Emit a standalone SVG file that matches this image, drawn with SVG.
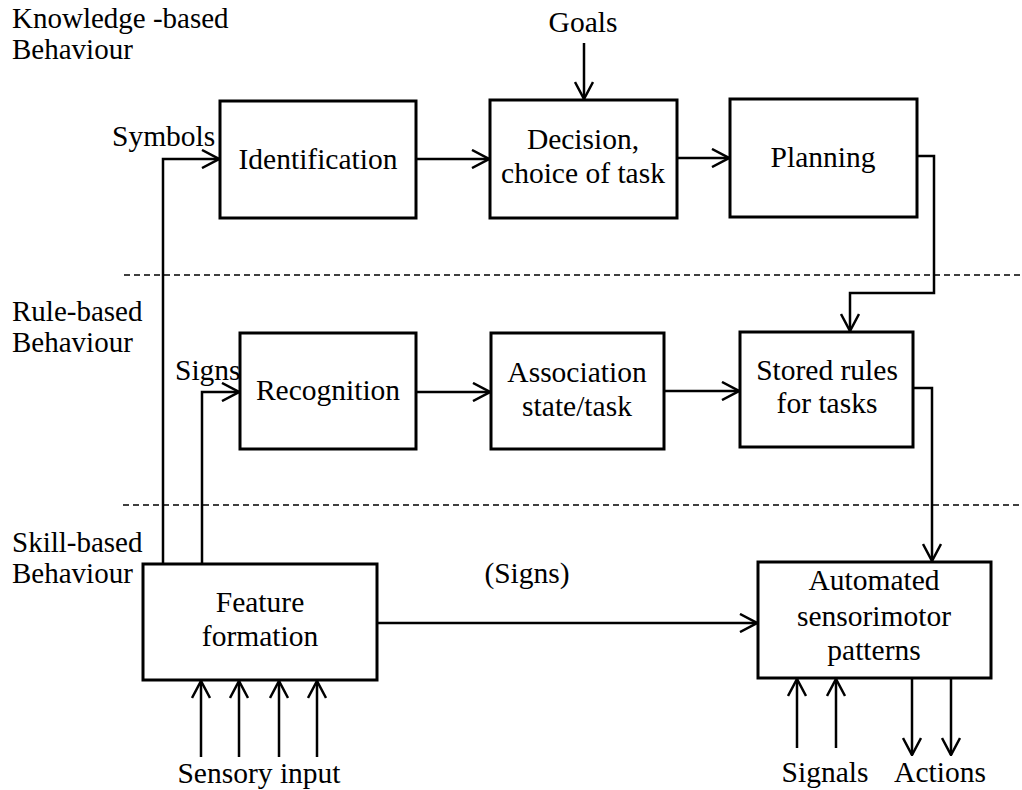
<svg xmlns="http://www.w3.org/2000/svg" width="1022" height="790" viewBox="0 0 1022 790" font-family="'Liberation Serif','Times New Roman',serif">
<style>
text{font-family:"Liberation Serif","Times New Roman",serif;font-size:29.5px;fill:#000}
.lv{font-size:29px}
.c{text-anchor:middle}
.box{fill:#fff;stroke:#000;stroke-width:3}
.ln{fill:none;stroke:#000;stroke-width:2.5}
.dash{fill:none;stroke:#000;stroke-width:1.5;stroke-dasharray:6 4}
</style>
<defs>
<marker id="arr" viewBox="0 0 20 20" refX="19" refY="10" markerWidth="20" markerHeight="20" markerUnits="userSpaceOnUse" orient="auto">
<path d="M2,1 L19,10 L2,19" fill="none" stroke="#000" stroke-width="2.5"/>
</marker>
</defs>
<rect width="1022" height="790" fill="#fff"/>
<g id="levels">
<text class="lv" x="12" y="28">Knowledge -based</text>
<text class="lv" x="12" y="59">Behaviour</text>
<text class="lv" x="12" y="321">Rule-based</text>
<text class="lv" x="12" y="352">Behaviour</text>
<text class="lv" x="12" y="552">Skill-based</text>
<text class="lv" x="12" y="583">Behaviour</text>
<line class="dash" x1="124" y1="275" x2="1022" y2="275"/>
<line class="dash" x1="123" y1="505" x2="1022" y2="505"/>
</g>
<g id="connectors">
<path class="ln" d="M163,564 V159 H219" marker-end="url(#arr)"/>
<path class="ln" d="M202,564 V392 H239" marker-end="url(#arr)"/>
<path class="ln" d="M416,159 H489" marker-end="url(#arr)"/>
<path class="ln" d="M584,43 V99" marker-end="url(#arr)"/>
<path class="ln" d="M677,158 H729" marker-end="url(#arr)"/>
<path class="ln" d="M917,156 H934 V293 H850 V331" marker-end="url(#arr)"/>
<path class="ln" d="M416,392 H490" marker-end="url(#arr)"/>
<path class="ln" d="M664,391 H739" marker-end="url(#arr)"/>
<path class="ln" d="M913,388 H932 V561" marker-end="url(#arr)"/>
<path class="ln" d="M377,623 H757" marker-end="url(#arr)"/>
<path class="ln" d="M201,757 V681" marker-end="url(#arr)"/>
<path class="ln" d="M239,757 V681" marker-end="url(#arr)"/>
<path class="ln" d="M279,757 V681" marker-end="url(#arr)"/>
<path class="ln" d="M317,757 V681" marker-end="url(#arr)"/>
<path class="ln" d="M797,748 V679" marker-end="url(#arr)"/>
<path class="ln" d="M836,748 V679" marker-end="url(#arr)"/>
<path class="ln" d="M912,678 V755" marker-end="url(#arr)"/>
<path class="ln" d="M951,678 V755" marker-end="url(#arr)"/>
<text x="112" y="146">Symbols</text>
<text x="175" y="380">Signs</text>
<text class="c" x="527" y="583">(Signs)</text>
<text class="c" x="583" y="32">Goals</text>
<text class="c" x="259" y="783">Sensory input</text>
<text class="c" x="825" y="782">Signals</text>
<text class="c" x="940" y="782">Actions</text>
</g>
<g id="identification">
<rect class="box" x="220" y="101" width="196" height="117"/>
<text class="c" x="318" y="169">Identification</text>
</g>
<g id="decision">
<rect class="box" x="490" y="100" width="187" height="118"/>
<text class="c" x="583" y="149">Decision,</text>
<text class="c" x="583" y="183">choice of task</text>
</g>
<g id="planning">
<rect class="box" x="730" y="99" width="187" height="118"/>
<text class="c" x="823" y="167">Planning</text>
</g>
<g id="recognition">
<rect class="box" x="240" y="333" width="176" height="116"/>
<text class="c" x="328" y="400">Recognition</text>
</g>
<g id="association">
<rect class="box" x="491" y="333" width="173" height="116"/>
<text class="c" x="577" y="382">Association</text>
<text class="c" x="577" y="416">state/task</text>
</g>
<g id="stored-rules">
<rect class="box" x="740" y="332" width="173" height="115"/>
<text class="c" x="827" y="380">Stored rules</text>
<text class="c" x="827" y="413">for tasks</text>
</g>
<g id="feature-formation">
<rect class="box" x="143" y="564" width="234" height="116"/>
<text class="c" x="260" y="612">Feature</text>
<text class="c" x="260" y="646">formation</text>
</g>
<g id="automated">
<rect class="box" x="758" y="562" width="233" height="116"/>
<text class="c" x="874" y="590">Automated</text>
<text class="c" x="874" y="626">sensorimotor</text>
<text class="c" x="874" y="660">patterns</text>
</g>
</svg>
